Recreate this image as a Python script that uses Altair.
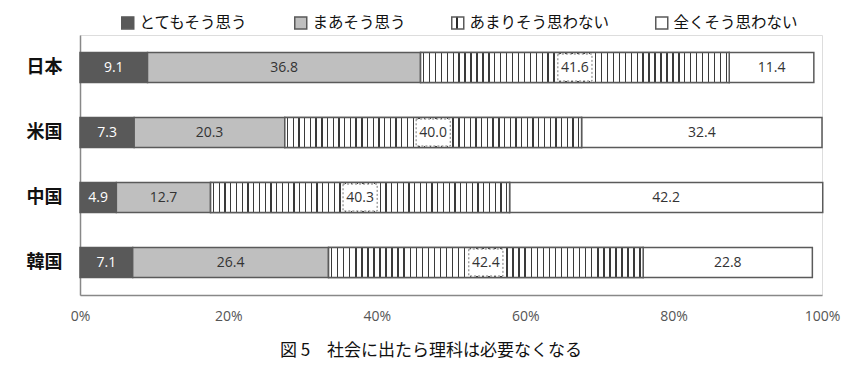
import json
import altair as alt
import pandas as pd

countries = ["日本", "米国", "中国", "韓国"]
series = ["とてもそう思う", "まあそう思う", "あまりそう思わない", "全くそう思わない"]
very = [9.1, 7.3, 4.9, 7.1]
somewhat = [36.8, 20.3, 12.7, 26.4]
not_much = [41.6, 40.0, 40.3, 42.4]
not_at_all = [11.4, 32.4, 42.2, 22.8]
tick_values = [0, 20, 40, 60, 80, 100]
title_text = "図 5　社会に出たら理科は必要なくなる"

rows = []
for i, c in enumerate(countries):
    for j, vals in enumerate([very, somewhat, not_much, not_at_all]):
        rows.append({"country": c, "series": series[j], "order": j, "value": vals[i]})
df = pd.DataFrame(rows)

JP = "Noto Sans CJK JP"
NUM = "Open Sans"
EDGE = "#5a5a5a"


def stripes(n, w=0.24, line="#3a3a3a", bg="#ffffff"):
    stops = []
    p = 1.0 / n
    for k in range(n):
        a = round(k * p + p * (1 - w) / 2, 5)
        b = round(k * p + p * (1 + w) / 2, 5)
        stops += [
            {"offset": a, "color": bg},
            {"offset": a, "color": line},
            {"offset": b, "color": line},
            {"offset": b, "color": bg},
        ]
    return {"gradient": "linear", "x1": 0, "x2": 1, "y1": 0, "y2": 0,
            "stops": [{"offset": 0, "color": bg}] + stops + [{"offset": 1, "color": bg}]}


bar_grad = stripes(52)
legend_grad = {"gradient": "linear", "x1": 0, "x2": 1, "y1": 0, "y2": 0,
               "stops": [{"offset": 0, "color": "#ffffff"}, {"offset": 0.36, "color": "#ffffff"},
                         {"offset": 0.36, "color": "#2a2a2a"}, {"offset": 0.5, "color": "#2a2a2a"},
                         {"offset": 0.5, "color": "#ffffff"}, {"offset": 1, "color": "#ffffff"}]}
legend_grad_expr = {"expr": json.dumps(legend_grad)}

base = alt.Chart(df).transform_stack(
    stack="value", groupby=["country"], as_=["x0", "x1"],
    sort=[alt.SortField("order", order="ascending")]
).transform_calculate(
    mid="(datum.x0 + datum.x1) / 2",
    b0="(datum.x0 + datum.x1) / 2 - 2.3",
    b1="(datum.x0 + datum.x1) / 2 + 2.3",
)

y_enc = alt.Y("country:N", sort=countries, title=None,
              scale=alt.Scale(paddingInner=0, paddingOuter=0),
              axis=alt.Axis(domain=True, domainColor="#888888", domainWidth=1.5, ticks=False,
                            labelFont=JP, labelFontSize=18, labelFontWeight="bold",
                            labelColor="#111111", labelPadding=18, grid=False))
x_scale = alt.Scale(domain=[0, 100], nice=False)
x_enc = alt.X("x0:Q", scale=x_scale, title=None,
              axis=alt.Axis(values=tick_values, labelExpr="datum.value + '%'", domain=True,
                            domainColor="#888888", domainWidth=1.5, ticks=False, grid=False,
                            labelFont=NUM, labelFontSize=14, labelColor="#555555",
                            labelPadding=14, labelFlush=False))

bars = base.mark_bar(size=30, stroke=EDGE, strokeWidth=1.5).encode(
    x=x_enc, x2="x1:Q", y=y_enc,
    color=alt.Color("series:N", sort=series, title=None,
                    scale=alt.Scale(domain=series,
                                    range=["#595959", "#bfbfbf", legend_grad_expr, "#ffffff"]),
                    legend=alt.Legend(orient="none", legendX=40, legendY=-20, direction="horizontal",
                                      symbolType="square", symbolSize=144, symbolStrokeColor=EDGE,
                                      symbolStrokeWidth=1.5, labelFont=JP, labelFontSize=15.5,
                                      labelColor="#111111", columnPadding=42, labelOffset=4,
                                      labelLimit=300)),
    order=alt.Order("order:Q"),
)

striped = base.transform_filter("datum.order === 2").mark_bar(
    size=30, fill=bar_grad, stroke=EDGE, strokeWidth=1.5
).encode(x="x0:Q", x2="x1:Q", y=alt.Y("country:N", sort=countries))

boxes = base.transform_filter("datum.order === 2").mark_bar(
    size=27, fill="#ffffff", stroke="#777777", strokeWidth=1, strokeDash=[2, 2]
).encode(x="b0:Q", x2="b1:Q", y=alt.Y("country:N", sort=countries))

labels = base.mark_text(font=NUM, fontSize=14, baseline="middle", align="center").encode(
    x="mid:Q", y=alt.Y("country:N", sort=countries),
    text=alt.Text("value:Q", format=".1f"),
    color=alt.condition("datum.order === 0", alt.value("#ffffff"), alt.value("#333333")),
)

chart = alt.layer(bars, striped, boxes, labels).properties(
    width=742, height=260,
    padding={"left": 72, "top": 27, "right": 30, "bottom": 72},
    autosize=alt.AutoSizeParams(type="none"),
    title=alt.TitleParams(title_text, orient="bottom", anchor="middle", font=JP, fontSize=17,
                          fontWeight="normal", color="#111111", offset=20, dx=-20),
).configure_view(stroke=None).configure(background="white")

chart.save("out.html", embed_options={"renderer": "svg", "actions": False})
